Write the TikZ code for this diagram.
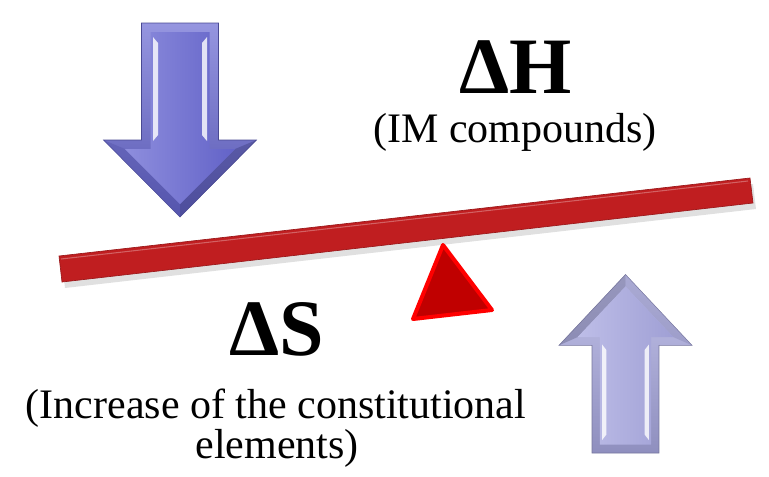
\documentclass[tikz,border=0pt]{standalone}
\usepackage{fontspec}
\setmainfont{Liberation Serif}
\usepackage{tikz}
\usetikzlibrary{calc}
\definecolor{beam}{RGB}{192,30,32}
\definecolor{fulcrum}{RGB}{192,0,0}
\definecolor{down}{RGB}{104,104,210}
\definecolor{up}{RGB}{168,168,224}
% fat bevelled arrow pointing down, origin = middle of the shaft top
\newcommand{\fatarrow}[2]{%
  \begin{scope}[#1]
    \shade[top color=#2!70!white,bottom color=#2!85!black,draw=#2!70!black,line width=0.4pt]
      (-38.5,0) -- (38.5,0) -- (38.5,117) -- (76.5,117) -- (0,194) -- (-76.5,117) -- (-38.5,117) -- cycle;
    \fill[#2!65!black,opacity=0.5] (76.5,117) -- (0,194) -- (0,181) -- (55,126) -- cycle;
    \fill[#2!80!black,opacity=0.4] (-76.5,117) -- (0,194) -- (0,181) -- (-55,126) -- cycle;
    \shade[left color=#2!75!white,right color=#2!95!black]
      (-29.5,9) -- (29.5,9) -- (29.5,126) -- (55,126) -- (0,181) -- (-55,126) -- (-29.5,126) -- cycle;
    \fill[white,opacity=0.8] (-27,14) -- (-22,20) -- (-22,112) -- (-27,118) -- cycle;
    \fill[white,opacity=0.8] (27,14) -- (22,20) -- (22,112) -- (27,118) -- cycle;
  \end{scope}}

\begin{document}
\begin{tikzpicture}[x=0.75pt,y=-0.75pt]
  \useasboundingbox (0,0) rectangle (769,476);
  % arrows
  \fatarrow{shift={(180,23)}}{down}
  \fatarrow{shift={(625.5,453)},rotate=180,xscale=0.87,yscale=0.92}{up}
  % beam and fulcrum
  \fill[black!12] (62,262) -- (753,184) -- (756,209) -- (65,288) -- cycle;
  \fill[beam,draw=beam!80!black,line width=0.5pt] (59,256) -- (750,178) -- (753,203) -- (62,282) -- cycle;
  \draw[beam!70!white,line width=0.8pt] (61,259) -- (748,181);
  \draw[line width=3pt,draw=red,fill=fulcrum,line join=round] (443,245) -- (492,310) -- (413,319) -- cycle;
  % labels
  \node[anchor=base,inner sep=0pt,font=\fontsize{60}{72}\selectfont\bfseries] (dH) at (516,93) {ΔH};
  \node[anchor=base,inner sep=0pt,font=\fontsize{31.5}{38}\selectfont] (dHnote) at (515,142) {(IM compounds)};
  \node[anchor=base,inner sep=0pt,font=\fontsize{60}{72}\selectfont\bfseries] (dS) at (277,355) {ΔS};
  \node[anchor=base,inner sep=0pt,font=\fontsize{31.5}{38}\selectfont] (dSnote) at (276,418) {(Increase of the constitutional};
  \node[anchor=base,inner sep=0pt,font=\fontsize{31.5}{38}\selectfont] (dSnote2) at (277,458) {elements)};
\end{tikzpicture}
\end{document}
